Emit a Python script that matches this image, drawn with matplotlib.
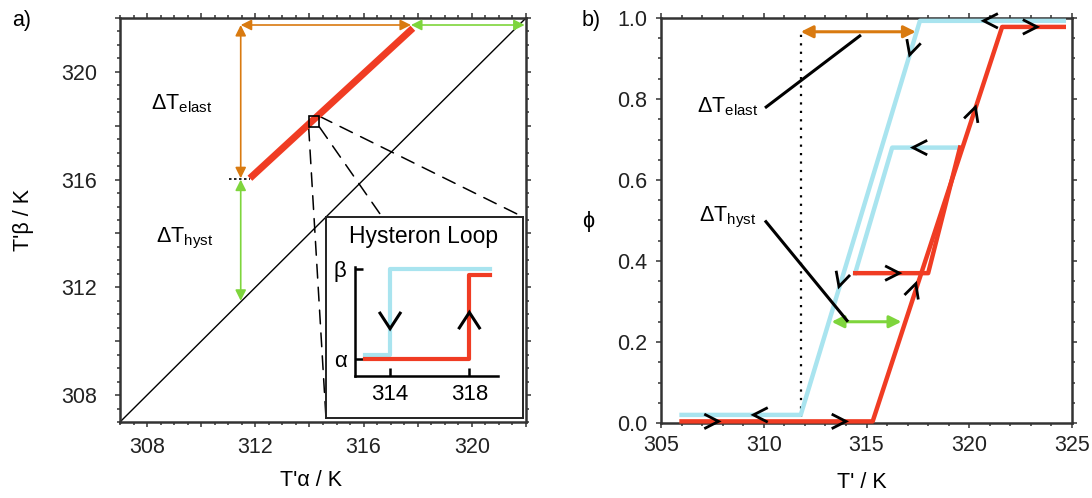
import numpy as np
import matplotlib
matplotlib.use("Agg")
import matplotlib.pyplot as plt
from matplotlib.ticker import MultipleLocator, FuncFormatter
from matplotlib.patches import Rectangle, ConnectionPatch

plt.rcParams['font.family'] = ['Liberation Sans', 'DejaVu Sans']
plt.rcParams['mathtext.fontset'] = 'custom'
plt.rcParams['mathtext.rm'] = 'Liberation Sans'
plt.rcParams['mathtext.it'] = 'Liberation Sans:italic'

BLUE = '#a9e4ef'
RED = '#f03c23'
ORANGE = '#d97a10'
GREEN = '#7ed53c'
SPINE = '#333333'

# ---- panel a) data: transition temperatures T'alpha vs T'beta
diag_T = [307.0, 322.0]
red_a_Ta = [311.8, 317.82]
red_a_Tb = [316.05, 321.62]
elast_x, elast_y0, elast_y1 = 311.46, 316.05, 321.74
top_y, top_x0, top_x1, top_x2 = 321.74, 311.46, 317.75, 321.95
hyst_x, hyst_y0, hyst_y1 = 311.46, 316.0, 311.5
dotted_a_x = [311.03, 311.8]
dotted_a_y = [316.02, 316.02]
zoom_box = (314.17, 318.15)  # centre of the magnified hysteron
zoom_half = 0.2

# ---- inset: single hysteron loop
hyst_blue_T = [312.74, 314.0, 314.0, 319.04]
hyst_blue_s = [0.048, 0.048, 1.0, 1.0]
hyst_red_T = [312.74, 318.0, 318.0, 319.04]
hyst_red_s = [0.0, 0.0, 0.934, 0.934]
hyst_ticks = [314, 318]

# ---- panel b) data: phase fraction vs T'
blue_T = [306.0, 311.8, 317.6, 324.6]
blue_phi = [0.02, 0.02, 0.993, 0.993]
red_T = [306.0, 315.3, 321.6, 324.6]
red_phi = [0.004, 0.004, 0.978, 0.978]
blue_minor_T = [319.5, 316.25, 314.45]
blue_minor_phi = [0.68, 0.68, 0.37]
red_minor_T = [314.45, 318.0, 319.55]
red_minor_phi = [0.37, 0.37, 0.68]
dotted_b_T = 311.8
dotted_b_phi = [0.015, 0.97]
elast_b = (311.8, 317.4, 0.966)
hyst_b = (313.3, 316.7, 0.25)
lead_elast_T, lead_elast_phi = [310.06, 314.73], [0.778, 0.958]
lead_hyst_T, lead_hyst_phi = [310.06, 314.1], [0.50, 0.25]

# chevrons on panel b): tip x, tip y, direction (dx, dy) in data units
chev_x = [307.8, 309.5, 314.0, 320.7, 323.3, 317.1, 317.26, 320.3, 316.6, 313.66, 317.4]
chev_y = [0.004, 0.02, 0.004, 0.993, 0.978, 0.909, 0.68, 0.78, 0.37, 0.337, 0.344]
chev_d = [(1, 0), (-1, 0), (1, 0), (-1, 0), (1, 0), (-1, -0.1677),
          (-1, 0), (1, 0.155), (1, 0), (-1, -0.1677), (1, 0.155)]

W, H = 1092, 498
fig = plt.figure(figsize=(W / 100, H / 100), dpi=100)


def px_axes(x0, x1, y0, y1, **kw):
    return fig.add_axes([x0 / W, 1 - y1 / H, (x1 - x0) / W, (y1 - y0) / H], **kw)


def chevron(ax, x, y, d, arm=16, spread=27, lw=2.0):
    # open arrowhead whose tip sits on (x, y), pointing along d
    p0 = ax.transData.transform((x, y))
    p1 = ax.transData.transform((x + d[0] * 0.01, y + d[1] * 0.01))
    ang = np.arctan2(p1[1] - p0[1], p1[0] - p0[0]) + np.pi
    pts = []
    for s in (1, -1):
        a = ang + s * np.deg2rad(spread)
        pts.append(p0 + arm * np.array([np.cos(a), np.sin(a)]))
    xy = ax.transData.inverted().transform(np.array([pts[0], p0, pts[1]]))
    ax.plot(xy[:, 0], xy[:, 1], color='k', lw=lw, solid_capstyle='butt',
            solid_joinstyle='miter', clip_on=False, zorder=6)


def dbl_arrow(ax, p0, p1, color, lw, ms):
    ax.annotate('', xy=p1, xytext=p0,
                arrowprops=dict(arrowstyle='<|-|>', color=color, lw=lw,
                                mutation_scale=ms, shrinkA=0, shrinkB=0),
                annotation_clip=False, zorder=5)


def style_frame(ax, ypad, xpad):
    for sp in ax.spines.values():
        sp.set_linewidth(1.8)
        sp.set_color(SPINE)
    ax.tick_params(which='both', direction='out', top=True, right=True,
                   color=SPINE, width=1.1, labelsize=15.5, labelcolor='#222222')
    ax.tick_params(which='major', length=3.5)
    ax.tick_params(which='minor', length=2)
    ax.tick_params(axis='y', pad=ypad)
    ax.tick_params(axis='x', pad=xpad)


# ================= panel a)
axA = px_axes(120, 526, 18, 422)
axA.set_xlim(307, 322)
axA.set_ylim(307, 322)
style_frame(axA, 13, 7)
every4 = FuncFormatter(lambda v, p: f'{v:.0f}' if round(v) % 4 == 0 else '')
for axis in (axA.xaxis, axA.yaxis):
    axis.set_major_locator(MultipleLocator(2))
    axis.set_minor_locator(MultipleLocator(0.5))
    axis.set_major_formatter(every4)

axA.plot(diag_T, diag_T, color='k', lw=1.0)
axA.plot(red_a_Ta, red_a_Tb, color=RED, lw=5, solid_capstyle='butt')
axA.plot(dotted_a_x, dotted_a_y, color='k', lw=1.2, ls=(0, (1.5, 1.5)))
dbl_arrow(axA, (elast_x, elast_y0), (elast_x, elast_y1), ORANGE, 1.2, 16)
dbl_arrow(axA, (top_x0, top_y), (top_x1, top_y), ORANGE, 1.2, 16)
dbl_arrow(axA, (top_x1, top_y), (top_x2, top_y), GREEN, 1.2, 16)
dbl_arrow(axA, (hyst_x, hyst_y0), (hyst_x, hyst_y1), GREEN, 1.2, 16)
cx, cy = zoom_box
axA.add_patch(Rectangle((cx - zoom_half, cy - zoom_half), 2 * zoom_half, 2 * zoom_half,
                        fill=False, ec='k', lw=1.2, zorder=6))

fig.text(182 / W, 1 - 104 / H, r'$\Delta$T$_{\rm elast}$', fontsize=15.5,
         ha='center', va='center')
fig.text(185 / W, 1 - 238 / H, r'$\Delta$T$_{\rm hyst}$', fontsize=15.5,
         ha='center', va='center')

# inset frame with the magnified hysteron
frame = px_axes(326, 522.5, 216.7, 418.3)
frame.set_xticks([])
frame.set_yticks([])
for sp in frame.spines.values():
    sp.set_linewidth(1.4)
    sp.set_color('#222222')

corners_box = [(cx - zoom_half, cy - zoom_half), (cx + zoom_half, cy - zoom_half),
               (cx + zoom_half, cy + zoom_half)]
corners_frame = [(0, 0), (1, 0), (1, 1)]
for pa, pb in zip(corners_box, corners_frame):
    con = ConnectionPatch(xyA=pa, coordsA=axA.transData, xyB=pb, coordsB=frame.transAxes,
                          color='k', lw=1.1, ls=(0, (9, 6)), zorder=1)
    axA.add_artist(con)

fig.text(424 / W, 1 - 236 / H, 'Hysteron Loop', fontsize=16.5, ha='center', va='center')

hy = px_axes(355, 498.3, 266.7, 375.7)
hy.patch.set_alpha(0)
hy.set_xlim(312.23, 319.46)
hy.set_ylim(-0.18, 1.025)
for s in ('top', 'right'):
    hy.spines[s].set_visible(False)
for s in ('left', 'bottom'):
    hy.spines[s].set_linewidth(1.8)
    hy.spines[s].set_color('k')
hy.set_xticks(hyst_ticks)
hy.set_yticks([0, 1])
hy.set_yticklabels(['α', 'β'])
hy.tick_params(direction='in', length=6, width=1.8, labelsize=16, pad=6)
hy.plot(hyst_blue_T, hyst_blue_s, color=BLUE, lw=3, clip_on=False)
hy.plot(hyst_red_T, hyst_red_s, color=RED, lw=3, clip_on=False)
chevron(hy, 314.0, 0.34, (0, -1), arm=20, spread=33, lw=2.2)
chevron(hy, 318.0, 0.52, (0, 1), arm=20, spread=33, lw=2.2)

fig.text(22 / W, 1 - 20 / H, 'a)', fontsize=15.5, ha='center', va='center')
fig.text(311 / W, 1 - 480 / H, "T'α / K", fontsize=15.5, ha='center', va='center')
fig.text(23 / W, 1 - 220 / H, "T'β / K", fontsize=15.5, ha='center', va='center',
         rotation=90)

# ================= panel b)
axB = px_axes(661, 1072, 18, 423)
axB.set_xlim(305, 325)
axB.set_ylim(0, 1)
style_frame(axB, 6.5, 5)
axB.xaxis.set_major_locator(MultipleLocator(5))
axB.xaxis.set_minor_locator(MultipleLocator(1))
axB.yaxis.set_major_locator(MultipleLocator(0.2))
axB.yaxis.set_minor_locator(MultipleLocator(0.05))
axB.yaxis.set_major_formatter(FuncFormatter(lambda v, p: f'{v:.1f}'))

axB.plot(blue_T, blue_phi, color=BLUE, lw=3.2, clip_on=False, zorder=3)
axB.plot(blue_minor_T, blue_minor_phi, color=BLUE, lw=3.2, zorder=3)
axB.plot(red_T, red_phi, color=RED, lw=3.2, clip_on=False, zorder=4)
axB.plot(red_minor_T, red_minor_phi, color=RED, lw=3.2, zorder=4)
axB.plot([dotted_b_T, dotted_b_T], dotted_b_phi, color='k', lw=1.6, ls=(0, (1, 2.8)))
dbl_arrow(axB, (elast_b[0], elast_b[2]), (elast_b[1], elast_b[2]), ORANGE, 2.2, 18)
dbl_arrow(axB, (hyst_b[0], hyst_b[2]), (hyst_b[1], hyst_b[2]), GREEN, 2.2, 18)
axB.plot(lead_elast_T, lead_elast_phi, color='k', lw=2.2, solid_capstyle='butt', zorder=5)
axB.plot(lead_hyst_T, lead_hyst_phi, color='k', lw=2.2, solid_capstyle='butt', zorder=5)
for x, y, d in zip(chev_x, chev_y, chev_d):
    chevron(axB, x, y, d, arm=16, spread=27, lw=2.0)

fig.text(728 / W, 1 - 107 / H, r'$\Delta$T$_{\rm elast}$', fontsize=15.5,
         ha='center', va='center')
fig.text(728 / W, 1 - 217 / H, r'$\Delta$T$_{\rm hyst}$', fontsize=15.5,
         ha='center', va='center')
fig.text(591 / W, 1 - 20 / H, 'b)', fontsize=15.5, ha='center', va='center')
fig.text(862 / W, 1 - 482 / H, "T' / K", fontsize=15.5, ha='center', va='center')
fig.text(588 / W, 1 - 222 / H, 'ϕ', fontsize=15.5, ha='center', va='center')

fig.savefig('out.png', dpi=100)
